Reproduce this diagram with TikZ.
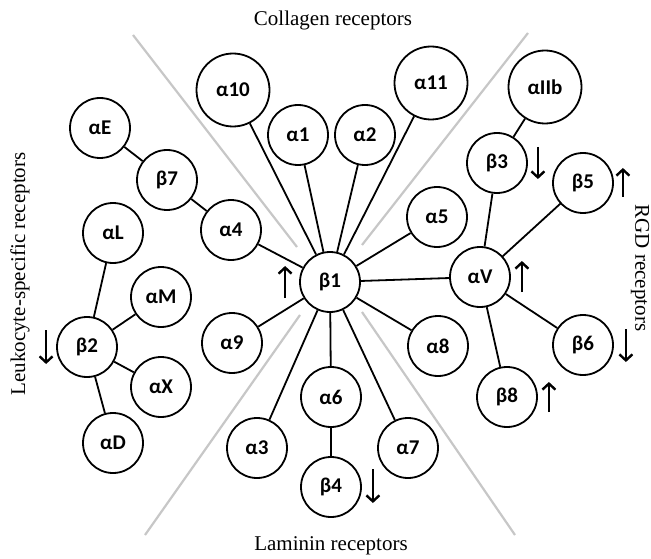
\documentclass[tikz,border=0pt]{standalone}
\usepackage{fontspec}
\setmainfont{Liberation Serif}
\newfontfamily\labfont{Carlito}
\usetikzlibrary{arrows.meta}
\tikzset{
  rec/.style={circle, draw=black, line width=1.8pt, minimum size=60pt, inner sep=0pt, font=\labfont\bfseries\fontsize{21}{23}\selectfont},
  bigrec/.style={rec, minimum size=73pt},
  link/.style={draw=black, line width=1.8pt},
  sector/.style={draw=black!22, line width=2.2pt},
  captext/.style={font=\fontsize{21}{24}\selectfont},
  chg/.style={line width=2.6pt, -{Straight Barb[length=6pt,width=13pt,line width=2.4pt]}}
}
\begin{document}
\begin{tikzpicture}[x=1pt,y=-1pt]
\useasboundingbox (0,0) rectangle (651,559);
% sector lines
\coordinate (ula) at (133,35); \coordinate (ulb) at (297,247);
\coordinate (ura) at (528,33); \coordinate (urb) at (362,245);
\coordinate (lla) at (300,315); \coordinate (llb) at (145,535);
\coordinate (lra) at (362,312); \coordinate (lrb) at (515,535);
\draw[sector] (ula) -- (ulb);
\draw[sector] (ura) -- (urb);
\draw[sector] (lla) -- (llb);
\draw[sector] (lra) -- (lrb);
% captions
\node[captext] (tcol) at (333,20) {Collagen receptors};
\node[captext] (tlam) at (331,546) {Laminin receptors};
\node[captext, rotate=-90, inner sep=0pt] (trgd) at (640,268) {RGD receptors};
\node[captext, rotate=90, inner sep=0pt] (tleu) at (20,274) {Leukocyte-specific receptors};
% nodes
\node[rec] (b1) at (330,282) {β1};
\node[bigrec] (a10) at (233,90) {α10};
\node[rec] (a1) at (298,135) {α1};
\node[rec] (a2) at (365,135) {α2};
\node[bigrec] (a11) at (431,83) {α11};
\node[rec] (a5) at (437,217) {α5};
\node[rec] (av) at (480,277) {αV};
\node[bigrec] (aiib) at (545,87) {αIIb};
\node[rec] (b3) at (497,163) {β3};
\node[rec] (b5) at (583,183) {β5};
\node[rec] (b6) at (583,345) {β6};
\node[rec] (b8) at (507,397) {β8};
\node[rec] (a8) at (438,346) {α8};
\node[rec] (a7) at (408,448) {α7};
\node[rec] (a6) at (331,397) {α6};
\node[rec] (b4) at (331,487) {β4};
\node[rec] (a3) at (257,448) {α3};
\node[rec] (a9) at (232,343) {α9};
\node[rec] (a4) at (231,230) {α4};
\node[rec] (b7) at (167,180) {β7};
\node[rec] (ae) at (100,128) {αE};
\node[rec] (al) at (113,233) {αL};
\node[rec] (am) at (161,297) {αM};
\node[rec] (b2) at (87,347) {β2};
\node[rec] (ax) at (161,387) {αX};
\node[rec] (ad) at (113,443) {αD};
% links
\foreach \t in {a10,a1,a2,a11,a5,av,a8,a7,a6,a3,a9,a4}
  \draw[link] (b1) -- (\t);
\foreach \t in {b3,b5,b6,b8}
  \draw[link] (av) -- (\t);
\draw[link] (b3) -- (aiib);
\draw[link] (a6) -- (b4);
\draw[link] (a4) -- (b7);
\draw[link] (b7) -- (ae);
\foreach \t in {al,am,ax,ad}
  \draw[link] (b2) -- (\t);
% expression changes
\draw[chg] ([xshift=-14pt]b1.west) ++(0,16) -- ++(0,-32);
\draw[chg] ([xshift=11pt]av.east) ++(0,15) -- ++(0,-31);
\draw[chg] ([xshift=10pt]b3.east) ++(0,-16) -- ++(0,32);
\draw[chg] ([xshift=9pt]b5.east) ++(0,14) -- ++(0,-29);
\draw[chg] ([xshift=12pt]b6.east) ++(0,-16) -- ++(0,33);
\draw[chg] ([xshift=11pt]b8.east) ++(0,15) -- ++(0,-30);
\draw[chg] ([xshift=11pt]b4.east) ++(0,-18) -- ++(0,34);
\draw[chg] ([xshift=-10pt]b2.west) ++(0,-17) -- ++(0,34);
\end{tikzpicture}
\end{document}
